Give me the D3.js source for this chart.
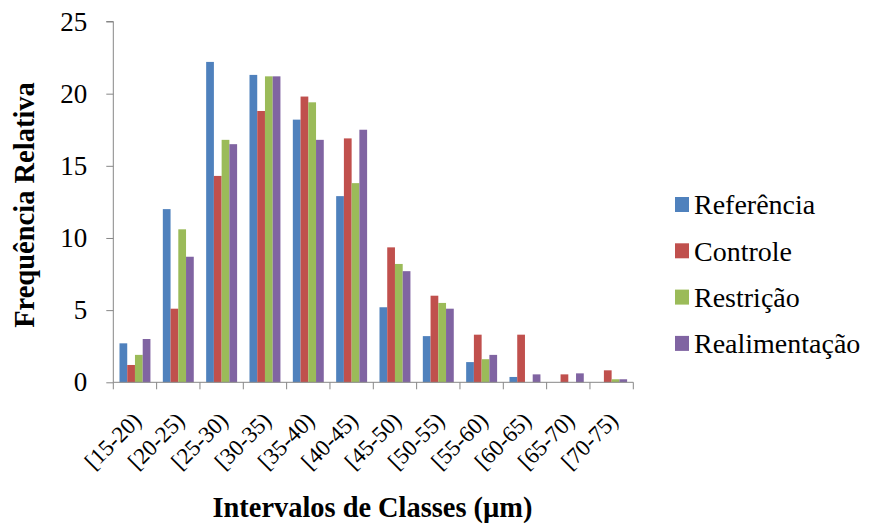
<!DOCTYPE html>
<html><head><meta charset="utf-8">
<script src="https://cdn.jsdelivr.net/npm/d3@7"></script>
<style>body{margin:0;background:#fff;} svg{display:block;} text{font-family:"Liberation Serif","Times New Roman","DejaVu Serif",serif;}</style>
</head><body>
<script>
const categories = ["[15-20)","[20-25)","[25-30)","[30-35)","[35-40)","[40-45)","[45-50)","[50-55)","[55-60)","[60-65)","[65-70)","[70-75)"];
const seriesNames = ["Referência","Controle","Restrição","Realimentação"];
const referencia   = [2.7, 12.0, 22.2, 21.3, 18.2, 12.9, 5.2, 3.2, 1.4, 0.37, 0, 0];
const controle     = [1.2, 5.1, 14.3, 18.8, 19.8, 16.9, 9.35, 6.0, 3.3, 3.3, 0.55, 0.83];
const restricao    = [1.9, 10.6, 16.8, 21.2, 19.4, 13.8, 8.2, 5.5, 1.6, 0, 0, 0.21];
const realimentacao= [3.0, 8.7, 16.5, 21.2, 16.8, 17.5, 7.7, 5.1, 1.9, 0.55, 0.62, 0.21];
const yTicks = [0,5,10,15,20,25];
const colors = ["#4F81BD","#C0504D","#9BBB59","#8064A2"];
const allSeries = [referencia, controle, restricao, realimentacao];

(function(){
const W = 869, H = 528;
const svg = d3.select("body").append("svg").attr("width", W).attr("height", H);
const pLeft = 113.3, pRight = 633.3, pTop = 21.5, pBottom = 382.3;
const font = "Liberation Serif, Times New Roman, DejaVu Serif, serif";
const axisColor = "#868686";

const x = d3.scaleBand().domain(categories).range([pLeft, pRight]).padding(0);
const x1 = d3.scaleBand().domain(seriesNames).range([0, x.bandwidth()]).paddingInner(0).paddingOuter(0.8);
const y = d3.scaleLinear().domain([0, 25]).range([pBottom, pTop]);

seriesNames.forEach((s, si) => {
  svg.append("g").selectAll("rect").data(categories).join("rect")
    .attr("x", c => x(c) + x1(s))
    .attr("y", (c, i) => y(allSeries[si][i]))
    .attr("width", x1.bandwidth())
    .attr("height", (c, i) => y(0) - y(allSeries[si][i]))
    .attr("fill", colors[si]);
});

const yAxis = d3.axisLeft(y).tickValues(yTicks).tickSize(7).tickPadding(19);
const gy = svg.append("g").attr("transform", `translate(${pLeft},0)`).call(yAxis);
gy.attr("font-family", null);
gy.select(".domain").attr("stroke", axisColor).attr("d", `M-7,${pTop}H0V${pBottom}`);
gy.selectAll(".tick line").attr("stroke", axisColor);
gy.selectAll(".tick text").style("font-family", font).style("font-weight", "normal").attr("font-size", 27).attr("fill", "#000");

const gx = svg.append("g").attr("transform", `translate(0,${pBottom})`);
gx.append("line").attr("x1", pLeft).attr("x2", pRight).attr("y1", 0).attr("y2", 0).attr("stroke", axisColor);
const bounds = categories.map(c => x(c)).concat([pRight]);
gx.selectAll("line.tk").data(bounds).join("line").attr("class","tk")
  .attr("x1", d => d).attr("x2", d => d).attr("y1", 0).attr("y2", 7).attr("stroke", axisColor);
gx.selectAll("text").data(categories).join("text")
  .attr("transform", c => `translate(${x(c) + x.bandwidth()/2 + 2},${34}) rotate(-45)`)
  .attr("text-anchor", "end").attr("dy", "0.35em")
  .style("font-family", font).style("font-weight", "normal").attr("font-size", 23).attr("fill", "#000")
  .text(c => c);

svg.append("text").attr("transform", `translate(34,205) rotate(-90)`)
  .attr("text-anchor", "middle").style("font-family", font).style("font-weight", "bold")
  .attr("font-size", 28.5).text("Frequência Relativa");
svg.append("text").attr("x", 372.5).attr("y", 517)
  .attr("text-anchor", "middle").style("font-family", font).style("font-weight", "bold")
  .attr("font-size", 28.4).text("Intervalos de Classes (µm)");

const lg = svg.append("g");
seriesNames.forEach((s, i) => {
  const cy = 204.5 + i * 46.3;
  lg.append("rect").attr("x", 675).attr("y", cy - 7.5).attr("width", 14).attr("height", 15).attr("fill", colors[i]);
  lg.append("text").attr("x", 694).attr("y", cy).attr("dy", "0.35em")
    .style("font-family", font).style("font-weight", "normal").attr("font-size", 28).attr("fill", "#000").text(s);
});
})();
</script>
</body></html>
